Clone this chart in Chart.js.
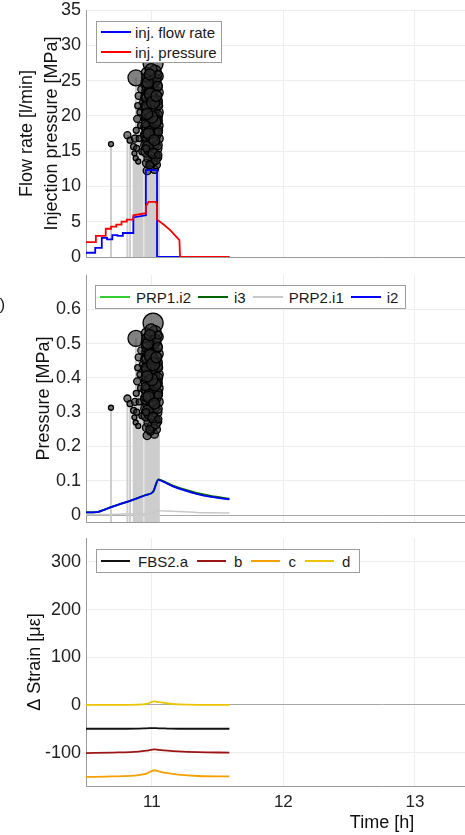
<!DOCTYPE html>
<html>
<head>
<meta charset="utf-8">
<script src="https://cdn.jsdelivr.net/npm/chart.js@4.4.1/dist/chart.umd.min.js"></script>
<style>
html,body{margin:0;padding:0;background:#fff;overflow:hidden;width:465px;height:835px;}
#wrap{position:relative;width:700px;height:835px;}
canvas{position:absolute;left:0;}
.legend{position:absolute;background:#fff;border:1px solid #9c9c9c;box-sizing:border-box;
  font:15px "Liberation Sans",Arial,sans-serif;color:#1a1a1a;display:flex;white-space:nowrap;}
.legend.h{flex-direction:row;align-items:center;}
.legend.v{flex-direction:column;justify-content:space-around;}
.legend .it{display:flex;align-items:center;}
.legend .ln{display:inline-block;height:0;border-top:2px solid #000;}
.plabel{position:absolute;font:17px "Liberation Sans",Arial,sans-serif;color:#222;}
</style>
</head>
<body>
<div id="wrap">
  <canvas id="c1" width="700" height="265" style="top:0px"></canvas>
  <canvas id="c2" width="700" height="263" style="top:265px"></canvas>
  <canvas id="c3" width="700" height="307" style="top:528px"></canvas>
  <div class="plabel" style="left:-10px;top:295px">b)</div>
</div>
<script>
// ---------------- axes / ticks ----------------
const X_MIN = 10.5, X_MAX = 15;
const xTicks = [11, 12, 13, 14, 15];
const yTicks1 = [0, 5, 10, 15, 20, 25, 30, 35];
const yTicks2 = [0, 0.1, 0.2, 0.3, 0.4, 0.5, 0.6];
const yTicks3 = [-100, 0, 100, 200, 300];

// ---------------- panel 1: injection ----------------
const flowTime = [10.50,10.57,10.57,10.62,10.62,10.66,10.66,10.70,10.70,10.74,10.74,10.78,10.78,10.86,10.86,10.955,10.955,11.04,11.04,11.59];
const flowRate = [0.6,0.6,1.3,1.3,2.7,2.7,2.5,2.5,3.1,3.1,3.0,3.0,3.4,3.4,5.6,5.9,12.3,12.3,0,0];
const presTime = [10.50,10.575,10.575,10.65,10.65,10.69,10.69,10.73,10.73,10.77,10.77,10.81,10.81,10.86,10.86,10.955,10.955,10.975,11.03,11.04,11.04,11.09,11.14,11.21,11.215,11.59];
const injPres  = [2.1,2.1,3.0,3.0,4.0,4.0,4.3,4.3,4.6,4.6,5.0,5.0,5.3,5.3,5.9,6.2,7.2,7.8,7.8,7.5,5.3,4.6,3.8,2.4,0,0];

// ---------------- seismic events (time [h], value in MPa units, marker radius) ----------------
const evTime = [11.010,10.880,10.690,10.815,10.835,
  10.862,10.868,10.872,10.878,10.882,10.886,10.889,10.893,10.897,10.900,10.905,10.910,10.915,10.920,10.925,10.930,
  10.965,11.020,10.990,11.035,10.960,11.005,10.975,11.045,11.020,10.960,10.990,11.035,10.958,11.010,10.975,11.045,
  10.960,11.025,10.990,10.958,11.040,11.005,10.970,11.030,10.960,10.990,11.045,11.015,10.965,11.035,10.985,10.958,
  11.020,11.045,10.970,11.000,11.035,10.960,11.015,10.980,11.045,10.962,11.025,10.995,
  10.985,11.030,10.970,11.000,11.040,10.965,11.020,10.980,11.042,11.000,10.965,11.030,10.985,11.000,11.010,10.980,
  11.010,11.040,10.960,11.045,11.042,10.958,10.958,11.045,
  10.952,11.050,10.955,11.052,10.953,11.050,10.957,11.048,
  10.975,11.025,10.990,11.010,10.970,11.035,11.000,10.985,11.020,10.965];
const evVal = [0.560,0.515,0.313,0.340,0.325,
  0.305,0.285,0.330,0.270,0.355,0.300,0.390,0.430,0.260,0.460,0.330,0.410,0.370,0.480,0.290,0.440,
  0.232,0.236,0.245,0.250,0.255,0.260,0.270,0.272,0.280,0.290,0.295,0.300,0.310,0.315,0.325,0.330,
  0.340,0.345,0.355,0.365,0.370,0.375,0.385,0.390,0.400,0.405,0.410,0.420,0.430,0.435,0.445,0.455,
  0.460,0.470,0.475,0.485,0.490,0.500,0.505,0.515,0.520,0.530,0.535,0.540,
  0.250,0.265,0.305,0.335,0.355,0.365,0.395,0.415,0.445,0.455,0.490,0.510,0.470,0.425,0.350,0.350,
  0.285,0.400,0.420,0.310,0.385,0.345,0.430,0.490,
  0.375,0.350,0.455,0.430,0.515,0.280,0.300,0.525,
  0.345,0.380,0.465,0.440,0.500,0.460,0.395,0.525,0.325,0.405];
const evSize = [10,8,2.5,3.5,3,
  3,2.5,3.5,2.5,3,3,3.5,3,2.5,3.5,3,3,3,3.5,3,3,
  4,4,4,4,4,5,4.5,4,5.5,5.5,6,5.5,5.5,6.5,6,5.5,
  6,6.5,6.5,5.5,6,6.5,6.5,6,5.5,6.5,5.5,6.5,6,6,6.5,5.5,
  6.5,5.5,6,6.5,6,5.5,6.5,6.5,5.5,5.5,6,6,
  4,4.5,5.5,6,5.5,5.5,6,6,5,6.5,5.5,5.5,6,6,6,5.5,
  5,5.5,5.5,4.5,5,4.5,4.5,4.5,
  4,4,4,4,4,3.5,3.5,4,
  5.5,6,6,6.5,5.5,5.5,6,5.5,5.5,5.5];
// panel 1 shows the same events on a hidden axis
const EV1_MIN = -0.031, EV1_MAX = 0.7215;
const EV2_MIN = -0.02,  EV2_MAX = 0.7;

// ---------------- panel 2: pore pressure ----------------
const prTime  = [10.50,10.58,10.68,10.78,10.86,10.95,11.01,11.05,11.10,11.16,11.25,11.34,11.45,11.59];
const prp1_i2 = [0.008,0.009,0.022,0.035,0.045,0.058,0.068,0.104,0.096,0.085,0.073,0.063,0.054,0.047];
const prp1_i3 = [0.008,0.009,0.022,0.035,0.045,0.058,0.068,0.104,0.097,0.086,0.075,0.065,0.056,0.048];
const prp2_i1 = [0.002,0.002,0.002,0.003,0.003,0.003,0.006,0.013,0.012,0.011,0.010,0.008,0.007,0.006];
const prp2_i2 = [0.008,0.009,0.022,0.035,0.045,0.058,0.068,0.103,0.095,0.084,0.072,0.062,0.053,0.046];

// ---------------- panel 3: strain ----------------
const stTime = [10.50,10.70,10.90,10.96,11.02,11.05,11.12,11.20,11.35,11.59];
const fbsA = [-50,-50,-49.5,-49,-48.5,-49,-49.5,-50,-50,-50];
const fbsB = [-101,-100,-98,-96,-93,-94,-96,-97.5,-99,-100];
const fbsC = [-151,-150,-147,-144,-137,-139,-143,-146,-149,-150];
const fbsD = [0,0,0.5,2,7.5,6,3,1,0,0];

// ---------------- helpers ----------------
Chart.defaults.font.family = '"Liberation Sans", Arial, sans-serif';
Chart.defaults.color = '#222';
const pts = (xs, ys) => xs.map((x, i) => ({x: x, y: ys[i]}));
const GRID = '#eeeeee', AXIS = '#9a9a9a';

function xScale(showLabels, h, title) {
  return {
    type: 'linear', min: X_MIN, max: X_MAX, offset: false,
    afterBuildTicks: s => { s.ticks = xTicks.map(v => ({value: v})); },
    ticks: {display: showLabels, padding: 8, color: '#222', font: {size: 17, lineHeight: 1}},
    grid: {color: GRID, drawTicks: false, offset: false},
    border: {color: AXIS},
    title: title ? {display: true, text: title, color: '#111', font: {size: 18}, padding: {top: 0, bottom: 1}} : {display: false},
    afterFit: s => { s.height = h; s.paddingLeft = 0; s.paddingRight = 0; }
  };
}
function yScale(min, max, ticks, title, pad, lh, zero) {
  return {
    type: 'linear', min: min, max: max, position: 'left',
    afterBuildTicks: s => { s.ticks = ticks.map(v => ({value: v})); },
    ticks: {padding: 5, color: '#222', font: {size: 18, lineHeight: 1}, callback: v => String(v)},
    grid: {drawTicks: false, color: c => (zero && c.tick && c.tick.value === 0) ? '#a8a8a8' : GRID},
    border: {color: AXIS},
    title: {display: true, text: title, color: '#111', font: {size: 18, lineHeight: lh}, padding: {top: pad, bottom: 0}},
    afterFit: s => { s.width = 86; s.paddingTop = 0; s.paddingBottom = 0; }
  };
}
let lineOrder = 0;
function line(label, xs, ys, color, w, mono) {
  lineOrder -= 1;   // later series are drawn on top
  return {type: 'line', label: label, data: pts(xs, ys), borderColor: color, backgroundColor: color,
    borderWidth: w, pointRadius: 0, fill: false, order: lineOrder,
    cubicInterpolationMode: mono ? 'monotone' : 'default', tension: 0};
}
function stems(base, axis) {
  return {type: 'bar', data: evTime.map((t, i) => ({x: t, y: [base, evVal[i]]})), yAxisID: axis,
    backgroundColor: '#cdcdcd', borderWidth: 0, barThickness: 1.3, order: 3, noLegend: true};
}
function bubbles(axis) {
  return {type: 'bubble', data: evTime.map((t, i) => ({x: t, y: evVal[i], r: evSize[i]})), yAxisID: axis,
    backgroundColor: 'rgba(45,45,45,0.6)', borderColor: '#000', borderWidth: 1.3, order: 2, noLegend: true};
}
const common = {
  responsive: false, animation: false, devicePixelRatio: 1,
  plugins: {legend: {display: false}, tooltip: {enabled: false}},
  events: []
};
function makeLegend(chart, o) {
  const box = document.createElement('div');
  box.className = 'legend ' + (o.vertical ? 'v' : 'h');
  Object.assign(box.style, {left: o.left + 'px', top: o.top + 'px', height: o.height + 'px',
    paddingLeft: o.padL + 'px', width: o.width ? o.width + 'px' : 'auto'});
  chart.data.datasets.filter(d => !d.noLegend && d.label).forEach(d => {
    const it = document.createElement('div'); it.className = 'it';
    it.style.marginRight = o.gapAfter + 'px';
    const ln = document.createElement('span'); ln.className = 'ln';
    ln.style.width = o.lineW + 'px'; ln.style.borderTopColor = d.borderColor; ln.style.marginRight = o.gap + 'px';
    const tx = document.createElement('span'); tx.textContent = d.label;
    it.appendChild(ln); it.appendChild(tx); box.appendChild(it);
  });
  document.getElementById('wrap').appendChild(box);
}
const LAYOUT = {autoPadding: false, padding: {top: 10, right: 22, left: 0, bottom: 0}};

// ---------------- chart 1 ----------------
const ch1 = new Chart(document.getElementById('c1'), {
  type: 'line',
  data: {datasets: [
    line('inj. flow rate', flowTime, flowRate, '#0000ff', 1.8, false),
    line('inj. pressure', presTime, injPres, '#ff0000', 1.8, false),
    bubbles('ev'), stems(EV1_MIN, 'ev')
  ]},
  options: Object.assign({}, common, {
    layout: LAYOUT,
    scales: {
      x: xScale(false, 8, null),
      y: yScale(0, 35, yTicks1, ['Flow rate [l/min]', 'Injection pressure [MPa]'], 14, 1.4, false),
      ev: {type: 'linear', display: false, min: EV1_MIN, max: EV1_MAX}
    }
  })
});
makeLegend(ch1, {left: 96, top: 21, height: 42, width: 126, padL: 4, lineW: 30, gap: 4, gapAfter: 0, vertical: true});

// ---------------- chart 2 ----------------
const ch2 = new Chart(document.getElementById('c2'), {
  type: 'line',
  data: {datasets: [
    line('PRP1.i2', prTime, prp1_i2, '#33cc33', 1.8, true),
    line('i3', prTime, prp1_i3, '#006400', 1.8, true),
    line('PRP2.i1', prTime, prp2_i1, '#c8c8c8', 1.5, true),
    line('i2', prTime, prp2_i2, '#0000ff', 1.8, true),
    bubbles('y'), stems(EV2_MIN, 'y')
  ]},
  options: Object.assign({}, common, {
    layout: LAYOUT,
    scales: {
      x: xScale(false, 6, null),
      y: yScale(EV2_MIN, EV2_MAX, yTicks2, 'Pressure [MPa]', 33, 1.2, true)
    }
  })
});
makeLegend(ch2, {left: 95, top: 285, height: 24, padL: 4, lineW: 30, gap: 6, gapAfter: 7, vertical: false});

// ---------------- chart 3 ----------------
const ch3 = new Chart(document.getElementById('c3'), {
  type: 'line',
  data: {datasets: [
    line('FBS2.a', stTime, fbsA, '#111111', 1.8, true),
    line('b', stTime, fbsB, '#9c1515', 1.8, true),
    line('c', stTime, fbsC, '#f5a000', 1.8, true),
    line('d', stTime, fbsD, '#ecc400', 1.8, true)
  ]},
  options: Object.assign({}, common, {
    layout: LAYOUT,
    scales: {
      x: xScale(true, 49, 'Time [h]'),
      y: yScale(-170, 350, yTicks3, 'Δ Strain [με]', 24, 1.2, true)
    }
  })
});
makeLegend(ch3, {left: 96, top: 549, height: 24, padL: 4, lineW: 29, gap: 8, gapAfter: 9, vertical: false});
</script>
</body>
</html>
